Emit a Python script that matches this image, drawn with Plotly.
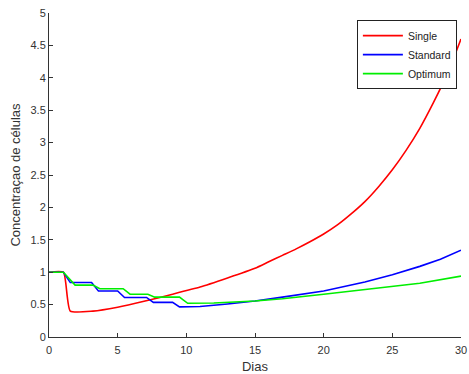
import plotly.graph_objects as go

# Single (red)
single_days = [0, 1.05, 1.55, 3.2, 5, 7, 9, 11, 13, 15, 16, 17, 18, 19, 20, 21, 22, 23, 24, 25, 26, 27, 28, 29, 30]
single_vals = [1, 1, 0.40, 0.40, 0.46, 0.555, 0.66, 0.77, 0.91, 1.06, 1.16, 1.26, 1.36, 1.47, 1.59, 1.73, 1.90, 2.09, 2.32, 2.58, 2.88, 3.22, 3.62, 4.06, 4.60]

# Standard (blue)
standard_days = [0, 1.05, 1.55, 3.1, 3.6, 5.0, 5.5, 7.1, 7.6, 9.0, 9.5, 11, 13, 15, 17, 20, 23, 25, 27, 28.5, 30]
standard_vals = [1, 1, 0.84, 0.84, 0.71, 0.71, 0.61, 0.61, 0.535, 0.535, 0.465, 0.47, 0.51, 0.555, 0.615, 0.71, 0.85, 0.96, 1.09, 1.20, 1.34]

# Optimum (green)
optimum_days = [0, 1.05, 1.9, 3.2, 3.7, 5.4, 5.9, 7.2, 7.7, 9.5, 10.1, 12, 15, 17, 20, 23, 25, 27, 30]
optimum_vals = [1, 1, 0.80, 0.80, 0.745, 0.745, 0.66, 0.66, 0.615, 0.615, 0.52, 0.525, 0.555, 0.59, 0.66, 0.73, 0.775, 0.83, 0.94]

x_ticks = [0, 5, 10, 15, 20, 25, 30]
y_ticks = [0, 0.5, 1, 1.5, 2, 2.5, 3, 3.5, 4, 4.5, 5]

fig = go.Figure()
fig.add_trace(go.Scatter(x=single_days, y=single_vals, mode="lines", name="Single",
                         line=dict(color="#ff0000", width=1.6, shape="spline", smoothing=0.5)))
fig.add_trace(go.Scatter(x=standard_days, y=standard_vals, mode="lines", name="Standard",
                         line=dict(color="#0000ff", width=1.6)))
fig.add_trace(go.Scatter(x=optimum_days, y=optimum_vals, mode="lines", name="Optimum",
                         line=dict(color="#00ee00", width=1.6)))

axis_common = dict(showgrid=False, zeroline=False, showline=True, linecolor="#333333",
                   linewidth=1, ticks="inside", ticklen=4, tickcolor="#333333",
                   tickfont=dict(family="Liberation Sans, Arial", size=11, color="#333333"),
                   mirror=False, automargin=False)

fig.update_layout(
    width=469, height=374,
    margin=dict(l=49, r=8, t=13, b=37),
    paper_bgcolor="white", plot_bgcolor="white",
    font=dict(family="Liberation Sans, Arial", color="#333333"),
    xaxis=dict(range=[0, 30], tickvals=x_ticks, ticklabelstandoff=3,
               title=dict(text="Dias", font=dict(size=13), standoff=6), **axis_common),
    yaxis=dict(range=[0, 5], tickvals=y_ticks, ticklabelstandoff=0,
               title=dict(text="Concentraçao de células", font=dict(size=13), standoff=6), **axis_common),
    legend=dict(x=0.99, y=0.978, xanchor="right", yanchor="top",
                bgcolor="white", bordercolor="#222222", borderwidth=1,
                font=dict(size=10.5, color="#222222"), tracegroupgap=0, itemwidth=40),
    showlegend=True,
)

fig.write_html("out.html", config={"displayModeBar": False},
               post_script="document.body.style.margin='0';")
